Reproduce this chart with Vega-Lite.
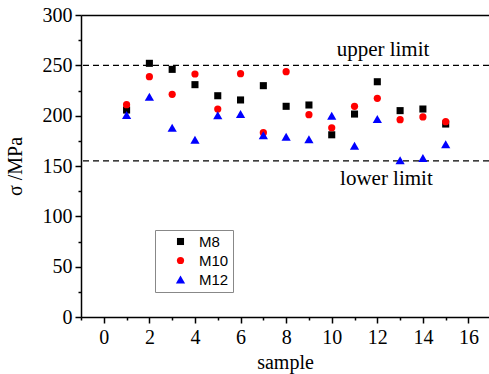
{
  "$schema": "https://vega.github.io/schema/vega-lite/v6.json",
  "width": 408,
  "height": 302,
  "autosize": {"type": "none"},
  "padding": {"left": 81, "top": 15, "right": 0, "bottom": 57},
  "background": "white",
  "config": {
    "view": {"stroke": null},
    "axis": {
      "domainColor": "black", "domainWidth": 1.5, "tickColor": "black", "tickWidth": 1.5,
      "labelFont": "Liberation Serif", "labelColor": "black", "labelFontSize": 20,
      "titleFont": "Liberation Serif", "titleColor": "black", "titleFontSize": 20, "titleFontWeight": "normal",
      "grid": false
    }
  },
  "datasets": {
    "pts": [
      {"sample": 1, "sigma": 205.6, "series": "M8"},
      {"sample": 2, "sigma": 252, "series": "M8"},
      {"sample": 3, "sigma": 246, "series": "M8"},
      {"sample": 4, "sigma": 230.8, "series": "M8"},
      {"sample": 5, "sigma": 219.8, "series": "M8"},
      {"sample": 6, "sigma": 215.6, "series": "M8"},
      {"sample": 7, "sigma": 229.8, "series": "M8"},
      {"sample": 8, "sigma": 209.3, "series": "M8"},
      {"sample": 9, "sigma": 210.6, "series": "M8"},
      {"sample": 10, "sigma": 181, "series": "M8"},
      {"sample": 11, "sigma": 201.6, "series": "M8"},
      {"sample": 12, "sigma": 233.7, "series": "M8"},
      {"sample": 13, "sigma": 205, "series": "M8"},
      {"sample": 14, "sigma": 206.6, "series": "M8"},
      {"sample": 15, "sigma": 191.7, "series": "M8"},
      {"sample": 1, "sigma": 210.9, "series": "M10"},
      {"sample": 2, "sigma": 238.7, "series": "M10"},
      {"sample": 3, "sigma": 221.2, "series": "M10"},
      {"sample": 4, "sigma": 241.4, "series": "M10"},
      {"sample": 5, "sigma": 206.6, "series": "M10"},
      {"sample": 6, "sigma": 241.7, "series": "M10"},
      {"sample": 7, "sigma": 183.1, "series": "M10"},
      {"sample": 8, "sigma": 243.7, "series": "M10"},
      {"sample": 9, "sigma": 201, "series": "M10"},
      {"sample": 10, "sigma": 188, "series": "M10"},
      {"sample": 11, "sigma": 209.3, "series": "M10"},
      {"sample": 12, "sigma": 217.2, "series": "M10"},
      {"sample": 13, "sigma": 196, "series": "M10"},
      {"sample": 14, "sigma": 198.7, "series": "M10"},
      {"sample": 15, "sigma": 194, "series": "M10"},
      {"sample": 1, "sigma": 200.7, "series": "M12"},
      {"sample": 2, "sigma": 218.8, "series": "M12"},
      {"sample": 3, "sigma": 188, "series": "M12"},
      {"sample": 4, "sigma": 176, "series": "M12"},
      {"sample": 5, "sigma": 200.3, "series": "M12"},
      {"sample": 6, "sigma": 201.6, "series": "M12"},
      {"sample": 7, "sigma": 180.5, "series": "M12"},
      {"sample": 8, "sigma": 179.1, "series": "M12"},
      {"sample": 9, "sigma": 176.5, "series": "M12"},
      {"sample": 10, "sigma": 200, "series": "M12"},
      {"sample": 11, "sigma": 170.2, "series": "M12"},
      {"sample": 12, "sigma": 196.7, "series": "M12"},
      {"sample": 13, "sigma": 155.7, "series": "M12"},
      {"sample": 14, "sigma": 158, "series": "M12"},
      {"sample": 15, "sigma": 171.5, "series": "M12"}
    ],
    "limits": [
      {"limit": 250, "name": "upper limit", "lx": 12.25, "ly": 259},
      {"limit": 155, "name": "lower limit", "lx": 12.4, "ly": 131}
    ]
  },
  "layer": [
    {
      "data": {"name": "limits"},
      "mark": {"type": "rule", "strokeDash": [6, 4], "color": "black", "strokeWidth": 1.3},
      "encoding": {
        "y": {"field": "limit", "type": "quantitative", "scale": {"domain": [0, 300], "nice": false}, "axis": null}
      }
    },
    {
      "data": {"name": "limits"},
      "mark": {"type": "text", "font": "Liberation Serif", "fontSize": 21, "color": "black", "align": "center", "baseline": "alphabetic"},
      "encoding": {
        "x": {"field": "lx", "type": "quantitative", "scale": {"domain": [-1, 16.9], "nice": false}, "axis": null},
        "y": {"field": "ly", "type": "quantitative", "scale": {"domain": [0, 300], "nice": false}, "axis": null},
        "text": {"field": "name"}
      }
    },
    {
      "data": {"name": "pts"},
      "mark": {"type": "point", "filled": true, "opacity": 1},
      "encoding": {
        "x": {"field": "sample", "type": "quantitative", "scale": {"domain": [-1, 16.9], "nice": false},
              "axis": {"orient": "bottom", "values": [0, 2, 4, 6, 8, 10, 12, 14, 16], "title": "sample", "tickSize": 6, "labelPadding": 4, "titlePadding": 5}},
        "y": {"field": "sigma", "type": "quantitative", "scale": {"domain": [0, 300], "nice": false},
              "axis": {"orient": "left", "values": [0, 50, 100, 150, 200, 250, 300], "title": "σ /MPa", "tickSize": 6, "labelPadding": 3, "titlePadding": 17}},
        "color": {"field": "series", "type": "nominal",
                  "scale": {"domain": ["M8", "M10", "M12"], "range": ["#000000", "#ff0000", "#0000ff"]},
                  "legend": {"title": null, "orient": "none", "legendX": 74, "legendY": 215,
                             "strokeColor": "#888888", "padding": 4, "symbolOffset": 14, "labelOffset": 11,
                             "labelFont": "Liberation Sans", "labelFontSize": 15,
                             "labelColor": "black", "symbolSize": 60, "rowPadding": 3, "symbolOpacity": 1, "fillColor": "white"}},
        "shape": {"field": "series", "type": "nominal",
                  "scale": {"domain": ["M8", "M10", "M12"], "range": ["square", "circle", "triangle-up"]},
                  "legend": null},
        "size": {"field": "series", "type": "nominal",
                 "scale": {"type": "ordinal", "domain": ["M8", "M10", "M12"], "range": [50, 52, 85]},
                 "legend": null}
      }
    },
    {
      "data": {"name": "pts"},
      "mark": {"type": "point", "opacity": 0},
      "encoding": {
        "x": {"field": "sample", "type": "quantitative", "scale": {"domain": [-1, 16.9], "nice": false},
              "axis": {"orient": "bottom", "values": [-1, 1, 3, 5, 7, 9, 11, 13, 15], "labels": false, "title": null, "tickSize": 3, "domain": false}},
        "y": {"field": "sigma", "type": "quantitative", "scale": {"domain": [0, 300], "nice": false},
              "axis": {"orient": "left", "values": [25, 75, 125, 175, 225, 275], "labels": false, "title": null, "tickSize": 3, "domain": false}}
      }
    },
    {
      "data": {"name": "pts"},
      "mark": {"type": "point", "opacity": 0},
      "encoding": {
        "x": {"field": "sample", "type": "quantitative", "scale": {"domain": [-1, 16.9], "nice": false},
              "axis": {"orient": "top", "ticks": false, "labels": false, "title": null, "domain": true}}
      }
    }
  ],
  "resolve": {"axis": {"x": "independent", "y": "independent"}}
}
